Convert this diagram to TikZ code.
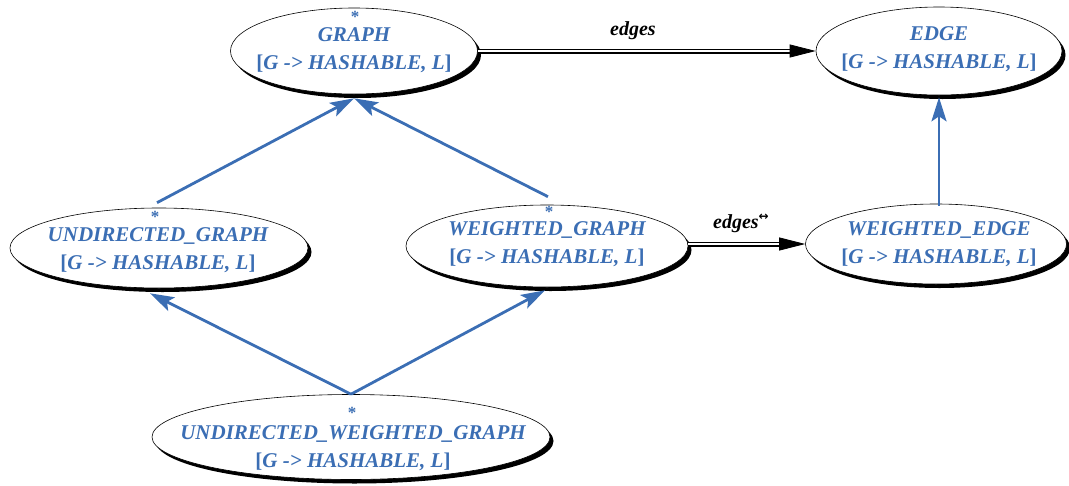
\documentclass[tikz,border=0pt]{standalone}
\usepackage{fontspec}
\setmainfont{Liberation Serif}
\newfontfamily\symfont{DejaVu Sans}
\usetikzlibrary{arrows.meta,shadows,shapes.geometric}
\definecolor{bonblue}{RGB}{59,110,180}
\tikzset{
  cls/.style={ellipse, draw=black, line width=0.6pt, fill=white, inner sep=0pt,
    drop shadow={shadow xshift=3.5pt, shadow yshift=-4pt, fill=black, opacity=1}},
  clstext/.style={text=bonblue, align=center, inner sep=0pt,
    font=\fontsize{21}{28}\selectfont\bfseries\itshape},
  star/.style={text=bonblue, inner sep=0pt, font=\fontsize{17}{17}\selectfont\bfseries},
  inherit/.style={draw=bonblue, line width=2.8pt,
    -{Stealth[length=24pt,width=15pt,inset=5pt]}},
  client/.style={draw=black, line width=1.2pt, double=white, double distance=2.6pt,
    shorten >=22pt},
  clienttip/.style={draw=black, line width=0.8pt, -{Triangle[length=26pt,width=13pt]}},
  lbl/.style={inner sep=0pt, font=\fontsize{20}{20}\selectfont\bfseries\itshape}
}
\newcommand{\gen}{{\upshape[}G -> HASHABLE, L{\upshape]}}
\newcommand{\defmark}{\smash{*}}
\begin{document}
\begin{tikzpicture}[x=1pt,y=-1pt]
\useasboundingbox (0,0) rectangle (1069,485);

% class ellipses
\node[cls, minimum width=247pt, minimum height=86pt] (g)   at (354,51)  {};
\node[cls, minimum width=246pt, minimum height=88pt] (e)   at (939,51)  {};
\node[cls, minimum width=298pt, minimum height=80pt] (ug)  at (159,248) {};
\node[cls, minimum width=282pt, minimum height=82pt] (wg)  at (547,246) {};
\node[cls, minimum width=261pt, minimum height=80pt] (we)  at (936,244) {};
\node[cls, minimum width=398pt, minimum height=85pt] (uwg) at (351,437) {};

% class names and generic parameters
\node[clstext] (gt)   at (354,50)  {GRAPH\\\gen};
\node[clstext] (et)   at (939,49)  {EDGE\\\gen};
\node[clstext] (ugt)  at (158,250) {UNDIRECTED\_GRAPH\\\gen};
\node[clstext] (wgt)  at (547,244) {WEIGHTED\_GRAPH\\\gen};
\node[clstext] (wet)  at (939,244) {WEIGHTED\_EDGE\\\gen};
\node[clstext] (uwgt) at (353,448) {UNDIRECTED\_WEIGHTED\_GRAPH\\\gen};

% deferred markers (baseline placed below the glyph)
\node[star] (gs)   at (355,22)  {\defmark};
\node[star] (ugs)  at (155,222) {\defmark};
\node[star] (wgs)  at (549,217) {\defmark};
\node[star] (uwgs) at (352,418) {\defmark};

% inheritance
\draw[inherit] ([xshift=-2pt,yshift=5pt]ug.north) -- ([yshift=-4pt]g.south);
\draw[inherit] ([xshift=1pt,yshift=8pt]wg.north) -- ([yshift=-4pt]g.south);
\draw[inherit] (uwg.north) -- ([xshift=-9pt,yshift=-5pt]ug.south);
\draw[inherit] (uwg.north) -- ([xshift=-2pt,yshift=-3pt]wg.south);
\draw[inherit] ([yshift=-2pt]e.south |- we.north) -- ([yshift=-2pt]e.south);

% client relations
\draw[client] (g.east) -- (e.west);
\draw[clienttip] ([xshift=-26pt]e.west) -- (e.west);
\node[lbl] (l1) at (633,31) {edges};

\draw[client] (wg.east |- we.west) -- (we.west);
\draw[clienttip] ([xshift=-26pt]we.west) -- (we.west);
\node[lbl] (l2) at (741,223) {edges\raisebox{8pt}{\symfont\bfseries\upshape\fontsize{12}{12}\selectfont ↔}};
\end{tikzpicture}
\end{document}
